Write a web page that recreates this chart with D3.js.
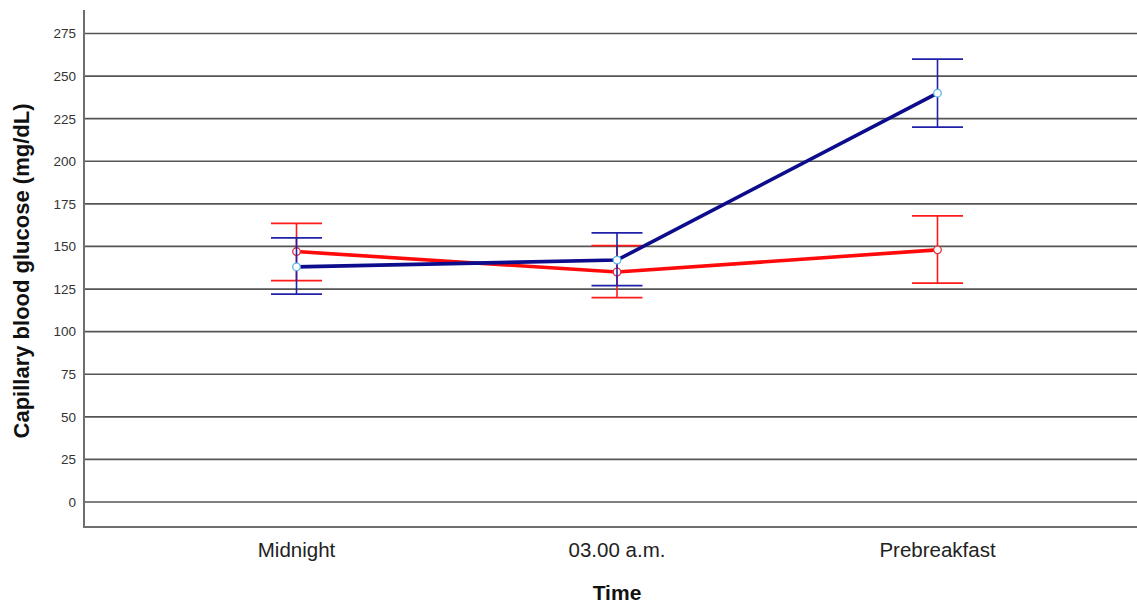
<!DOCTYPE html>
<html><head><meta charset="utf-8">
<script src="https://cdn.jsdelivr.net/npm/d3@7"></script>
<style>body{margin:0;background:#fff;}svg{display:block;font-family:"Liberation Sans",Arial,sans-serif;}</style>
</head><body>
<svg id="c" width="1137" height="608"></svg>
<script>
const categories = ["Midnight", "03.00 a.m.", "Prebreakfast"];
const yTicks = [0, 25, 50, 75, 100, 125, 150, 175, 200, 225, 250, 275];
const blueMean = [138, 142, 240];
const blueUpper = [155, 158, 260];
const blueLower = [122, 127, 220];
const redMean = [147, 135, 148];
const redUpper = [163.5, 150.5, 168];
const redLower = [130, 120, 128.5];

(function () {
const svg = d3.select("#c");
const pLeft = 84, pRight = 1137, pTop = 10, pBottom = 527;
const y = d3.scaleLinear().domain([0, 275]).range([502, 33.5]);
const x = d3.scalePoint().domain(categories).range([296.5, 937.5]);

// gridlines
svg.append("g").selectAll("line").data(yTicks).join("line")
  .attr("x1", pLeft).attr("x2", pRight)
  .attr("y1", d => y(d)).attr("y2", d => y(d))
  .attr("stroke", "#555").attr("stroke-width", 1.7);

// axes lines
svg.append("line").attr("x1", pLeft).attr("x2", pLeft).attr("y1", pTop).attr("y2", pBottom)
  .attr("stroke", "#6e6e6e").attr("stroke-width", 2);
svg.append("line").attr("x1", pLeft - 1).attr("x2", pRight).attr("y1", pBottom).attr("y2", pBottom)
  .attr("stroke", "#6e6e6e").attr("stroke-width", 2);

// y tick labels
svg.append("g").selectAll("text").data(yTicks).join("text")
  .attr("x", 76).attr("y", d => y(d)).attr("dy", "0.36em")
  .attr("text-anchor", "end").attr("font-size", 13.5).attr("fill", "#333")
  .text(d => d);

// x labels
svg.append("g").selectAll("text").data(categories).join("text")
  .attr("x", d => x(d)).attr("y", 557)
  .attr("text-anchor", "middle").attr("font-size", 20.5).attr("fill", "#222")
  .text(d => d);

svg.append("text").attr("x", 617).attr("y", 600).attr("text-anchor", "middle")
  .attr("font-size", 21).attr("font-weight", "bold").attr("fill", "#111").text("Time");
svg.append("text").attr("transform", "translate(29,271) rotate(-90)").attr("text-anchor", "middle")
  .attr("font-size", 22).attr("font-weight", "bold").attr("fill", "#111")
  .text("Capillary blood glucose (mg/dL)");

function series(mean, up, lo, lineColor, barColor, markColor) {
  const g = svg.append("g");
  const data = categories.map((c, i) => ({c, m: mean[i], u: up[i], l: lo[i]}));
  g.selectAll(".v").data(data).join("line")
    .attr("x1", d => x(d.c)).attr("x2", d => x(d.c))
    .attr("y1", d => y(d.u)).attr("y2", d => y(d.l))
    .attr("stroke", barColor).attr("stroke-width", 1.6);
  g.selectAll(".cu").data(data).join("line")
    .attr("x1", d => x(d.c) - 25.5).attr("x2", d => x(d.c) + 25.5)
    .attr("y1", d => y(d.u)).attr("y2", d => y(d.u))
    .attr("stroke", barColor).attr("stroke-width", 1.8);
  g.selectAll(".cl").data(data).join("line")
    .attr("x1", d => x(d.c) - 25.5).attr("x2", d => x(d.c) + 25.5)
    .attr("y1", d => y(d.l)).attr("y2", d => y(d.l))
    .attr("stroke", barColor).attr("stroke-width", 1.8);
  g.append("path").datum(data)
    .attr("d", d3.line().x(d => x(d.c)).y(d => y(d.m)))
    .attr("fill", "none").attr("stroke", lineColor).attr("stroke-width", 3.6);
  g.selectAll("circle").data(data).join("circle")
    .attr("cx", d => x(d.c)).attr("cy", d => y(d.m)).attr("r", 3.8)
    .attr("fill", "#fff").attr("stroke", markColor).attr("stroke-width", 1.3);
}
series(redMean, redUpper, redLower, "#ff0a0a", "#ff1a1a", "#e0303a");
series(blueMean, blueUpper, blueLower, "#0c0c8c", "#2020a8", "#5ab4ea");
})();
</script>
</body></html>
